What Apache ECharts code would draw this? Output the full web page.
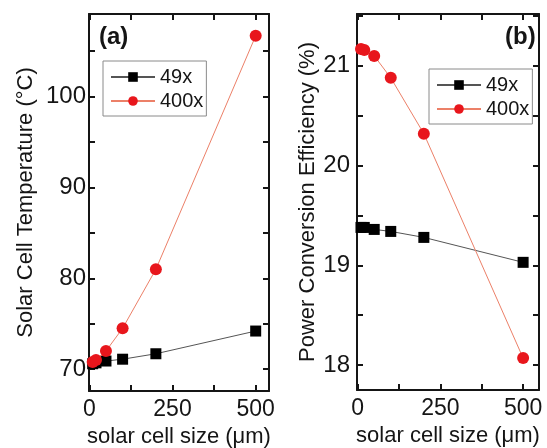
<!DOCTYPE html>
<html>
<head>
<meta charset="utf-8">
<script src="https://cdn.jsdelivr.net/npm/echarts@6/dist/echarts.min.js"></script>
<style>
  html, body { margin: 0; padding: 0; background: #fff; }
  #chart { width: 547px; height: 448px; }
</style>
</head>
<body>
<div id="chart"></div>
<script>
  // cell sizes (um)
  var sizes = [10, 20, 50, 100, 200, 500];
  // (a) solar cell temperature (C)
  var temp49 = [70.6, 70.7, 70.9, 71.1, 71.7, 74.2];
  var temp400 = [70.8, 71.0, 72.0, 74.5, 81.0, 106.7];
  // (b) power conversion efficiency (%)
  var eff49 = [19.38, 19.38, 19.36, 19.34, 19.28, 19.03];
  var eff400 = [21.17, 21.16, 21.10, 20.88, 20.32, 18.07];
  // ticks
  var xTicks = [0, 125, 250, 375, 500];
  var xLabels = [0, 250, 500];
  var tempTicks = [70, 75, 80, 85, 90, 95, 100, 105];
  var tempLabels = [70, 80, 90, 100];
  var effTicks = [18, 18.5, 19, 19.5, 20, 20.5, 21, 21.5];
  var effLabels = [18, 19, 20, 21];

  var FONT = '"Liberation Sans", Arial, sans-serif';
  var INK = '#151515';

  function pairs(xs, ys) {
    return xs.map(function (x, i) { return [x, ys[i]]; });
  }

  function xAxisOf(grid, min, max, bottom) {
    return {
      type: 'value', gridIndex: grid, min: min, max: max,
      position: bottom ? 'bottom' : 'top',
      name: bottom ? 'solar cell size (\u03bcm)' : '',
      nameLocation: 'middle', nameGap: 32,
      nameTextStyle: { fontFamily: FONT, fontSize: 22, color: INK },
      axisLine: { show: true, onZero: false, lineStyle: { color: INK, width: 2 } },
      axisTick: { show: true, inside: true, length: 6, customValues: xTicks, lineStyle: { color: INK, width: 2 } },
      axisLabel: { show: bottom, customValues: xLabels, margin: 7,
        fontFamily: FONT, fontSize: 23, color: INK },
      splitLine: { show: false }
    };
  }

  function yAxisOf(grid, min, max, left, name, gap, margin, ticks, labels) {
    return {
      type: 'value', gridIndex: grid, min: min, max: max,
      position: left ? 'left' : 'right',
      name: left ? name : '',
      nameLocation: 'middle', nameGap: gap, nameRotate: 90,
      nameTextStyle: { fontFamily: FONT, fontSize: 22, color: INK },
      axisLine: { show: true, onZero: false, lineStyle: { color: INK, width: 2 } },
      axisTick: { show: true, inside: true, length: 6, customValues: ticks, lineStyle: { color: INK, width: 2 } },
      axisLabel: { show: left, customValues: labels, margin: margin,
        fontFamily: FONT, fontSize: 24, color: INK },
      splitLine: { show: false }
    };
  }

  function blackSeries(xi, yi, data) {
    return {
      name: '49x', type: 'line', xAxisIndex: xi, yAxisIndex: yi,
      data: data, symbol: 'rect', symbolSize: 11, showAllSymbol: true,
      itemStyle: { color: '#000' },
      lineStyle: { color: '#555', width: 1 },
      z: 3
    };
  }

  function redSeries(xi, yi, data) {
    return {
      name: '400x', type: 'line', xAxisIndex: xi, yAxisIndex: yi,
      data: data, symbol: 'circle', symbolSize: 12, showAllSymbol: true,
      itemStyle: { color: '#e8161c' },
      lineStyle: { color: '#ec8068', width: 1 },
      z: 4
    };
  }

  function legendOf(left, top) {
    return {
      data: ['49x', '400x'], orient: 'vertical', left: left, top: top,
      itemWidth: 44, itemHeight: 12, itemGap: 4,
      padding: [6, 3, 5, 7],
      borderColor: '#8a8a8a', borderWidth: 1, borderRadius: 0,
      textStyle: { fontFamily: FONT, fontSize: 20, color: INK, lineHeight: 17 },
      selectedMode: false
    };
  }

  var chart = echarts.init(document.getElementById('chart'), null, { renderer: 'canvas' });
  chart.setOption({
    backgroundColor: '#fff',
    animation: false,
    title: [
      { text: '(a)', left: 94, top: 20, textStyle: { fontFamily: FONT, fontSize: 24, fontWeight: 'bold', color: INK } },
      { text: '(b)', left: 500, top: 20, textStyle: { fontFamily: FONT, fontSize: 24, fontWeight: 'bold', color: INK } }
    ],
    legend: [legendOf(103, 61), legendOf(429, 69)],
    grid: [
      { left: 89, right: 278, top: 14, bottom: 57, containLabel: false, outerBoundsMode: 'none' },
      { left: 357, right: 8, top: 14, bottom: 58, containLabel: false, outerBoundsMode: 'none' }
    ],
    xAxis: [
      xAxisOf(0, -1, 540, true), xAxisOf(0, -1, 540, false),
      xAxisOf(1, -2, 548, true), xAxisOf(1, -2, 548, false)
    ],
    yAxis: [
      yAxisOf(0, 67.6, 109.1, true, 'Solar Cell Temperature (\u00b0C)', 52, 3, tempTicks, tempLabels),
      yAxisOf(0, 67.6, 109.1, false, '', 0, 3, tempTicks, tempLabels),
      yAxisOf(1, 17.75, 21.52, true, 'Power Conversion Efficiency (%)', 38, 7, effTicks, effLabels),
      yAxisOf(1, 17.75, 21.52, false, '', 0, 7, effTicks, effLabels)
    ],
    series: [
      blackSeries(0, 0, pairs(sizes, temp49)),
      redSeries(0, 0, pairs(sizes, temp400)),
      blackSeries(2, 2, pairs(sizes, eff49)),
      redSeries(2, 2, pairs(sizes, eff400))
    ]
  });
</script>
</body>
</html>
